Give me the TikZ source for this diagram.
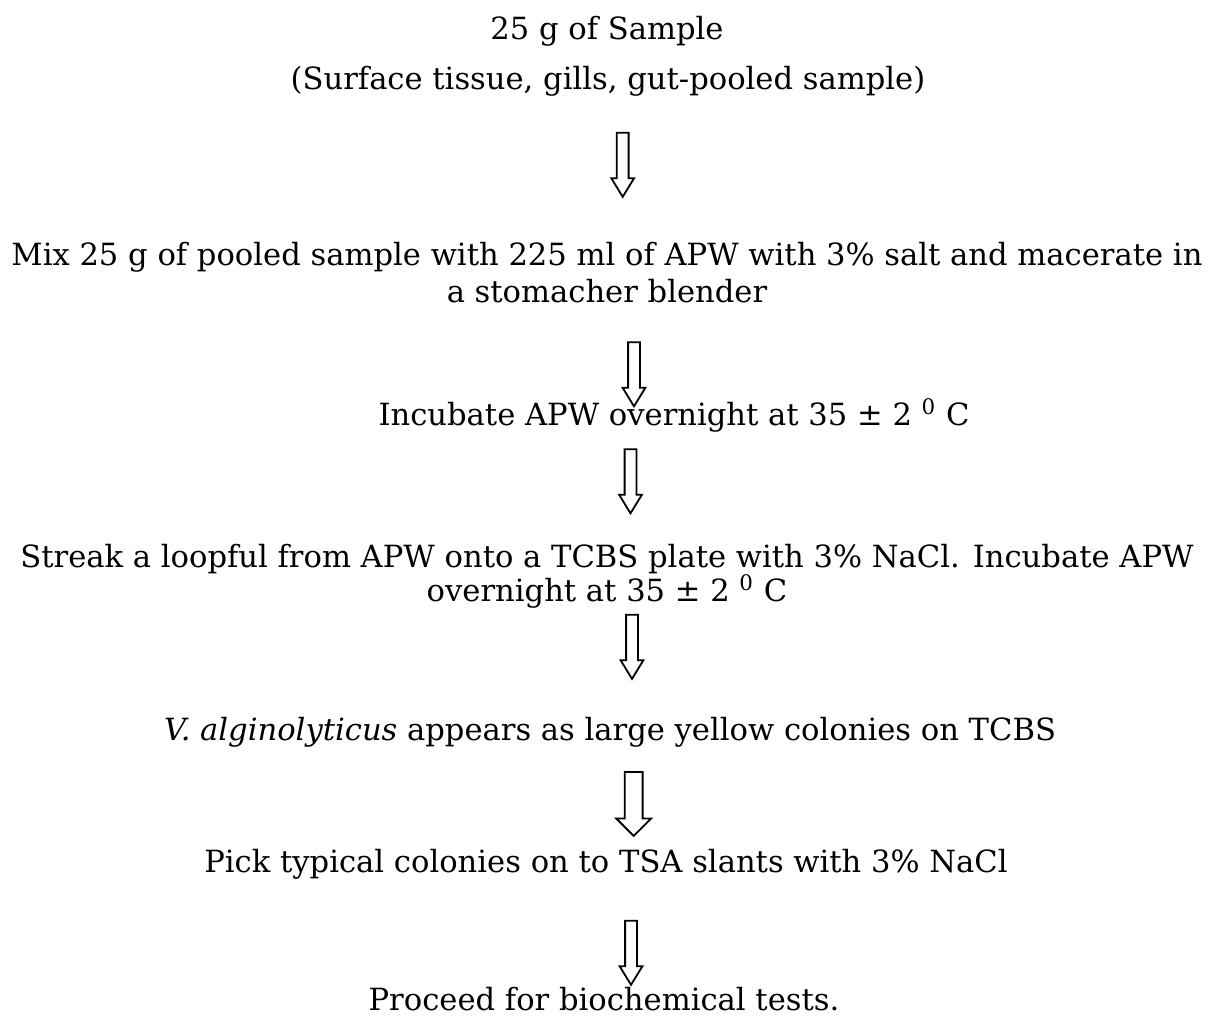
\documentclass[tikz,border=0pt]{standalone}
\usepackage{fontspec}
\setmainfont{DejaVu Serif}
\usetikzlibrary{shapes.arrows}

\begin{document}
\begin{tikzpicture}[x=.5pt,y=-.5pt,
  stage/.style={font=\fontsize{15.3pt}{18.5pt}\selectfont, inner sep=0pt, anchor=base, align=center},
  flow/.style={draw, line width=.9pt, single arrow, rotate=-90, inner xsep=0pt, inner ysep=2.5pt,
    single arrow head extend=2.75pt, single arrow tip angle=63, minimum height=32pt},
  bigflow/.style={flow, inner ysep=4pt, single arrow head extend=4.25pt, single arrow tip angle=90}]
\useasboundingbox (0,0) rectangle (1215,1026);

% steps of the procedure (two-line ones sit on their last line)
\node[stage] (sample) at (607,40) {25 g of Sample};
\node[stage] (source) at (608,90) {(Surface tissue, gills, gut-pooled sample)};
\node[stage] (mix) at (607,303) {Mix 25 g of pooled sample with 225 ml of APW with 3\% salt and macerate in\\a stomacher blender};
\node[stage] (incub) at (674,425) {Incubate APW overnight at 35 ± 2 \textsuperscript{0} C};
\node[stage] (streak) at (607,601) {Streak a loopful from APW onto a TCBS plate with 3\% NaCl. Incubate APW\\[-1.5pt]overnight at 35 ± 2 \textsuperscript{0} C};
\node[stage] (colony) at (610,740) {\textit{V. alginolyticus} appears as large yellow colonies on TCBS};
\node[stage] (pick) at (606,872) {Pick typical colonies on to TSA slants with 3\% NaCl};
\node[stage] (proceed) at (604,1010) {Proceed for biochemical tests.};

% arrow ends
\coordinate (a1) at (622.7,128); \coordinate (b1) at (622.7,192);
\coordinate (a2) at (634,337);   \coordinate (b2) at (634,402);
\coordinate (a3) at (630.5,445); \coordinate (b3) at (630.5,508);
\coordinate (a4) at (632,610);   \coordinate (b4) at (632,674);
\coordinate (a5) at (633.7,768); \coordinate (b5) at (633.7,831);
\coordinate (a6) at (631,916);   \coordinate (b6) at (631,980);

\foreach \i in {1,2,3,4,6} \path (a\i) -- (b\i) node[midway,flow]{};
\path (a5) -- (b5) node[midway,bigflow]{};
\end{tikzpicture}
\end{document}
